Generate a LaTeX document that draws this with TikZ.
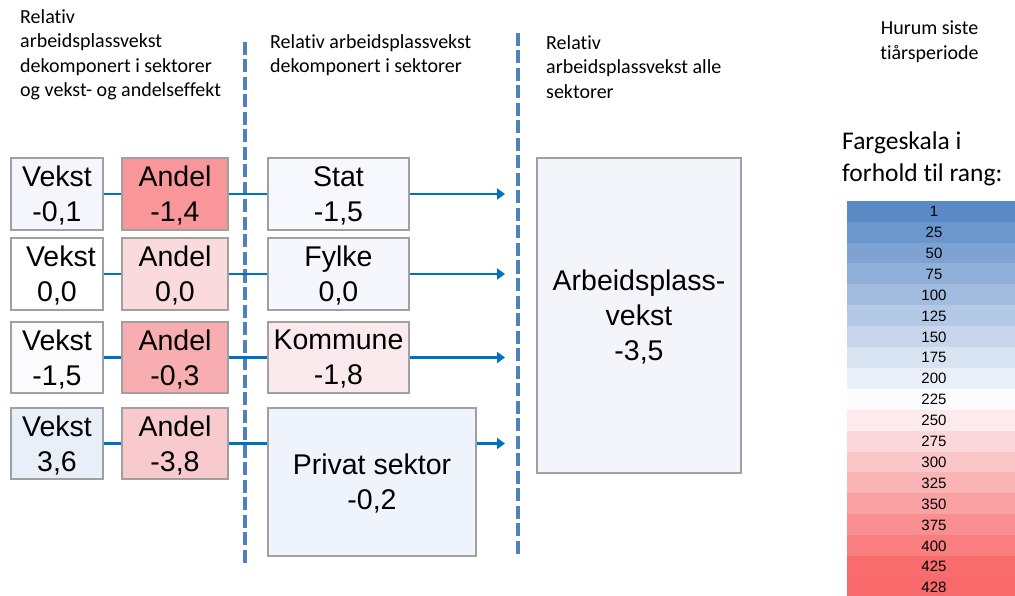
\documentclass[tikz,border=0pt]{standalone}
\usepackage{fontspec}
\setmainfont{Liberation Sans}
\newfontfamily\calib[Ligatures=NoCommon]{Carlito}
\usetikzlibrary{arrows.meta}
\definecolor{conn}{RGB}{0,112,192}
\definecolor{dashc}{RGB}{79,129,189}
\definecolor{bordc}{RGB}{160,160,160}
\definecolor{cvA}{RGB}{245,246,252}
\definecolor{caA}{RGB}{249,150,153}
\definecolor{cvB}{RGB}{255,255,255}
\definecolor{caB}{RGB}{250,218,221}
\definecolor{cvC}{RGB}{251,251,254}
\definecolor{caC}{RGB}{248,174,177}
\definecolor{cvD}{RGB}{233,239,249}
\definecolor{caD}{RGB}{249,202,205}
\definecolor{cStat}{RGB}{247,248,253}
\definecolor{cFylke}{RGB}{245,247,253}
\definecolor{cKomm}{RGB}{251,234,237}
\definecolor{cPriv}{RGB}{238,243,252}
\definecolor{cArb}{RGB}{244,245,251}
\definecolor{scB}{RGB}{90,138,198}
\definecolor{scW}{RGB}{252,252,255}
\definecolor{scR}{RGB}{248,105,107}
\newcommand\nodepth[1]{\raisebox{0pt}[\height][0pt]{#1}}
\newcommand\leftlines[1]{\vtop{\halign{##\hfil\cr#1\crcr}}}
\newcommand\centerlines[1]{\vtop{\halign{\hfil##\hfil\cr#1\crcr}}}
\begin{document}
\begin{tikzpicture}[x=1pt, y=-1pt,
  box/.style={draw=bordc, line width=1.2pt, align=center, inner sep=0pt,
    font=\fontsize{28.5}{35}\selectfont},
  link/.style={conn, line width=2.5pt},
  arr/.style={link, -{Triangle[length=8pt,width=11pt]}},
  divider/.style={dashc, line width=3.5pt, dash pattern=on 13pt off 4.5pt},
  head/.style={inner sep=0pt, anchor=base west, font=\calib\fontsize{20}{24.5}\selectfont},
  cell/.style={inner sep=0pt, minimum width=174pt, minimum height=21.4pt,
    font=\fontsize{15}{18}\selectfont}]
\useasboundingbox (0,0) rectangle (1015,596);

% headers
\node[head] (h1) at (20,23.3) {\leftlines{Relativ\cr arbeidsplassvekst\cr dekomponert i sektorer\cr og vekst- og andelseffekt}};
\node[head] (h2) at (270,48.3) {\leftlines{Relativ arbeidsplassvekst\cr dekomponert i sektorer}};
\node[head] (h3) at (546,49.3) {\leftlines{Relativ\cr arbeidsplassvekst alle\cr sektorer}};
\node[head, anchor=base] (h4) at (929.5,35) {\centerlines{Hurum siste\cr tiårsperiode}};
\node[head, font=\calib\fontsize{25.5}{32}\selectfont] (h5) at (842,150) {\leftlines{Fargeskala i\cr forhold til rang:}};

% dividers
\coordinate (d1t) at (245,42);
\coordinate (d1b) at (245,566);
\coordinate (d2t) at (518,33);
\coordinate (d2b) at (518,557);
\draw[divider] (d1t) -- (d1b);
\draw[divider] (d2t) -- (d2b);

% left column boxes
\node[box, fill=cvA, minimum width=92pt, minimum height=72pt] (v1) at (57,194) {Vekst\\\nodepth{-0,1}};
\node[box, fill=caA, minimum width=106pt, minimum height=72pt] (a1) at (175,194) {Andel\\\nodepth{-1,4}};
\node[box, fill=cvB, minimum width=92pt, minimum height=72pt] (v2) at (57,274) {\hspace*{7.8pt}Vekst\\\nodepth{0,0}};
\node[box, fill=caB, minimum width=106pt, minimum height=72pt] (a2) at (175,274) {Andel\\\nodepth{0,0}};
\node[box, fill=cvC, minimum width=92pt, minimum height=71pt] (v3) at (57,357.5) {Vekst\\\nodepth{-1,5}};
\node[box, fill=caC, minimum width=106pt, minimum height=71pt] (a3) at (175,357.5) {Andel\\\nodepth{-0,3}};
\node[box, fill=cvD, minimum width=92pt, minimum height=71pt] (v4) at (57,443.5) {Vekst\\\nodepth{3,6}};
\node[box, fill=caD, minimum width=106pt, minimum height=71pt] (a4) at (175,443.5) {Andel\\\nodepth{-3,8}};

% middle column boxes
\node[box, fill=cStat, minimum width=141pt, minimum height=72pt] (st) at (338.5,194) {Stat\\\nodepth{-1,5}};
\node[box, fill=cFylke, minimum width=141pt, minimum height=72pt] (fy) at (338.5,274) {Fylke\\\nodepth{0,0}};
\node[box, fill=cKomm, minimum width=141pt, minimum height=71pt] (ko) at (338.5,357.5) {Kommune\\\nodepth{-1,8}};
\node[box, fill=cPriv, minimum width=208pt, minimum height=148pt] (pr) at (372,482) {Privat sektor\\\nodepth{-0,2}};

% right box
\node[box, fill=cArb, minimum width=204pt, minimum height=315pt] (arb) at (639,315.5) {Arbeidsplass-\\vekst\\\nodepth{-3,5}};

% arrow ends
\coordinate (e1) at (505,194);
\coordinate (e2) at (505,274);
\coordinate (e3) at (505,357.5);
\coordinate (e4) at (505,443.5);

% connectors
\draw[link] (v1) -- (a1);
\draw[link] (a1) -- (st);
\draw[arr] (st) -- (e1);
\draw[link] (v2) -- (a2);
\draw[link] (a2) -- (fy);
\draw[arr] (fy) -- (e2);
\draw[link] (v3) -- (a3);
\draw[link] (a3) -- (ko);
\draw[arr] (ko) -- (e3);
\draw[link] (v4) -- (a4);
\draw[link] (a4.east) -- (a4.east -| pr.west);
\draw[arr] (a4.east -| pr.east) -- (e4);

% colour scale
\foreach \i/\v/\c in {0/1/scB, 1/25/scB!89!scW, 2/50/scB!78!scW, 3/75/scB!67!scW,
  4/100/scB!56!scW, 5/125/scB!45!scW, 6/150/scB!33!scW, 7/175/scB!22!scW,
  8/200/scB!11!scW, 9/225/scW, 10/250/scR!12!scW, 11/275/scR!25!scW,
  12/300/scR!37!scW, 13/325/scR!49!scW, 14/350/scR!62!scW, 15/375/scR!74!scW,
  16/400/scR!86!scW, 17/425/scR!98!scW, 18/428/scR}
  \node[cell, fill=\c] (s\i) at (934, 201+20.9*\i+10.45) {\v};
\end{tikzpicture}
\end{document}
